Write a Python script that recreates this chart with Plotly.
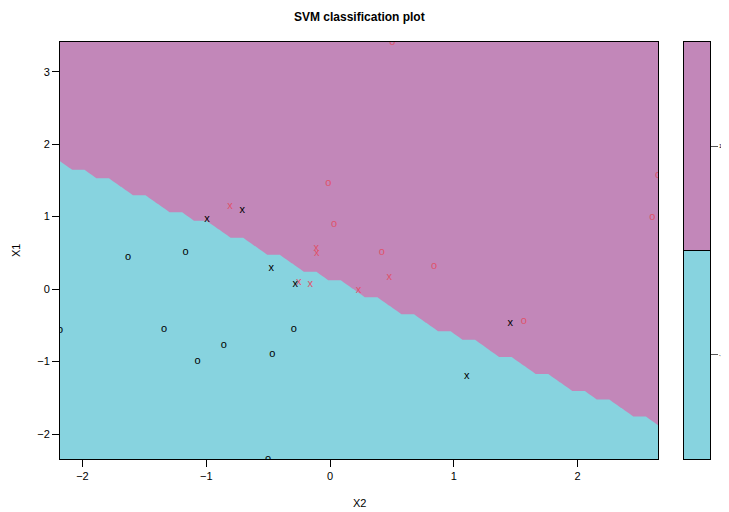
import numpy as np
import plotly.graph_objects as go

# ---- data ----
# class 1 (black), ordinary observations ("o")
c1_obs_x2 = [-1.632, -1.166, -2.181, -1.341, -0.857, -1.069, -0.466, -0.293, -0.501]
c1_obs_x1 = [0.436, 0.505, -0.570, -0.547, -0.768, -0.989, -0.892, -0.560, -2.344]
# class 1 support vectors ("x")
c1_sv_x2 = [-0.994, -0.709, -0.474, -0.280, 1.455, 1.105]
c1_sv_x1 = [0.962, 1.086, 0.284, 0.062, -0.477, -1.197]
# class 2 (red), ordinary observations ("o")
c2_obs_x2 = [-0.014, 0.032, 0.418, 0.840, 1.565, 0.503, 2.649, 2.604]
c2_obs_x1 = [1.460, 0.892, 0.505, 0.311, -0.450, 3.409, 1.570, 0.989]
# class 2 support vectors ("x")
c2_sv_x2 = [-0.808, -0.111, -0.107, -0.253, -0.159, 0.229, 0.479]
c2_sv_x1 = [1.146, 0.570, 0.491, 0.094, 0.062, -0.017, 0.159]

# fitted decision boundary (X1 = intercept + slope * X2), predicted on a grid
boundary_intercept = 0.0723
boundary_slope = -0.7563
grid_n = 50

class_labels = ["-1", "1"]
x_ticks = [-2, -1, 0, 1, 2]
y_ticks = [-2, -1, 0, 1, 2, 3]

CYAN = "#87D3DF"
PURPLE = "#C287B9"
BLACK = "#000000"
RED = "#DF536B"
FONT = "Liberation Sans, Arial, sans-serif"

all_x2 = c1_obs_x2 + c1_sv_x2 + c2_obs_x2 + c2_sv_x2
all_x1 = c1_obs_x1 + c1_sv_x1 + c2_obs_x1 + c2_sv_x1
xmin, xmax = min(all_x2), max(all_x2)
ymin, ymax = min(all_x1), max(all_x1)

gx = np.linspace(xmin, xmax, grid_n)
gy = np.linspace(ymin, ymax, grid_n)
GX, GY = np.meshgrid(gx, gy)
pred = (GY > boundary_intercept + boundary_slope * GX).astype(float)

fig = go.Figure()

step_scale = [[0, CYAN], [0.5, CYAN], [0.5, PURPLE], [1, PURPLE]]

fig.add_trace(go.Contour(
    x=gx, y=gy, z=pred,
    autocontour=False,
    contours=dict(start=0.999, end=0.999, size=1, coloring="fill", showlines=False),
    colorscale=step_scale, zmin=0, zmax=1,
    line=dict(width=0, smoothing=0),
    showscale=False, hoverinfo="skip",
))

def text_pts(xs, ys, ch, col):
    return go.Scatter(
        x=xs, y=ys, mode="text", text=[ch] * len(xs),
        textposition="middle center",
        textfont=dict(family=FONT, size=11, color=col),
        showlegend=False, hoverinfo="skip", cliponaxis=True,
    )

fig.add_trace(text_pts(c1_obs_x2, c1_obs_x1, "o", BLACK))
fig.add_trace(text_pts(c2_obs_x2, c2_obs_x1, "o", RED))
fig.add_trace(text_pts(c1_sv_x2, c1_sv_x1, "x", BLACK))
fig.add_trace(text_pts(c2_sv_x2, c2_sv_x1, "x", RED))

# key (colour legend)
fig.add_trace(go.Heatmap(
    x=[0], y=[1.5, 2.5], z=[[1], [2]],
    colorscale=step_scale, zmin=1, zmax=2, showscale=False,
    xaxis="x2", yaxis="y2", hoverinfo="skip",
))

axis_common = dict(
    showline=True, mirror=True, linecolor=BLACK, linewidth=1,
    ticks="outside", ticklen=7, tickcolor=BLACK, tickwidth=1,
    showgrid=False, zeroline=False,
    tickfont=dict(family=FONT, size=11, color=BLACK),
)

# page body has an 8px margin, so the figure is 8px smaller and positions are shifted
OFF = 8
W, H = 729 - OFF, 512 - OFF

def px_x(p):
    return (p - OFF) / W

def px_y(p):
    return 1 - (p - OFF) / H

fig.update_layout(
    width=W, height=H, autosize=False,
    margin=dict(l=0, r=0, t=0, b=0),
    paper_bgcolor="white", plot_bgcolor="white",
    showlegend=False,
    xaxis=dict(domain=[px_x(60), px_x(658)], range=[xmin, xmax], tickvals=x_ticks,
               anchor="y", **axis_common),
    yaxis=dict(domain=[px_y(459), px_y(42)], range=[ymin, ymax], tickvals=y_ticks,
               anchor="x", **axis_common),
    xaxis2=dict(domain=[px_x(684), px_x(710)], range=[-0.5, 0.5], anchor="y2",
                showline=True, mirror=True, linecolor=BLACK, linewidth=1,
                showticklabels=False, ticks="", showgrid=False, zeroline=False),
    yaxis2=dict(domain=[px_y(459), px_y(42)], range=[1, 3], anchor="x2",
                side="right", tickvals=[1.5, 2.5], ticktext=class_labels,
                showline=True, mirror=True, linecolor=BLACK, linewidth=1,
                ticks="outside", ticklen=7, tickcolor="#555555",
                tickangle=0,
                tickfont=dict(family=FONT, size=5, color=BLACK),
                showgrid=False, zeroline=False),
    shapes=[dict(type="line", xref="x2", yref="y2", x0=-0.5, x1=0.5, y0=2, y1=2,
                 line=dict(color=BLACK, width=1))],
    annotations=[
        dict(text="<b>SVM classification plot</b>", x=px_x(359), y=px_y(17),
             xref="paper", yref="paper", showarrow=False,
             font=dict(family=FONT, size=12, color=BLACK), xanchor="center", yanchor="middle"),
        dict(text="X2", x=px_x(359), y=px_y(503), xref="paper", yref="paper",
             showarrow=False, font=dict(family=FONT, size=11, color=BLACK),
             xanchor="center", yanchor="middle"),
        dict(text="X1", x=px_x(16), y=px_y(251), xref="paper", yref="paper",
             showarrow=False, textangle=-90, font=dict(family=FONT, size=11, color=BLACK),
             xanchor="center", yanchor="middle"),
    ],
)

fig.write_html("out.html")
